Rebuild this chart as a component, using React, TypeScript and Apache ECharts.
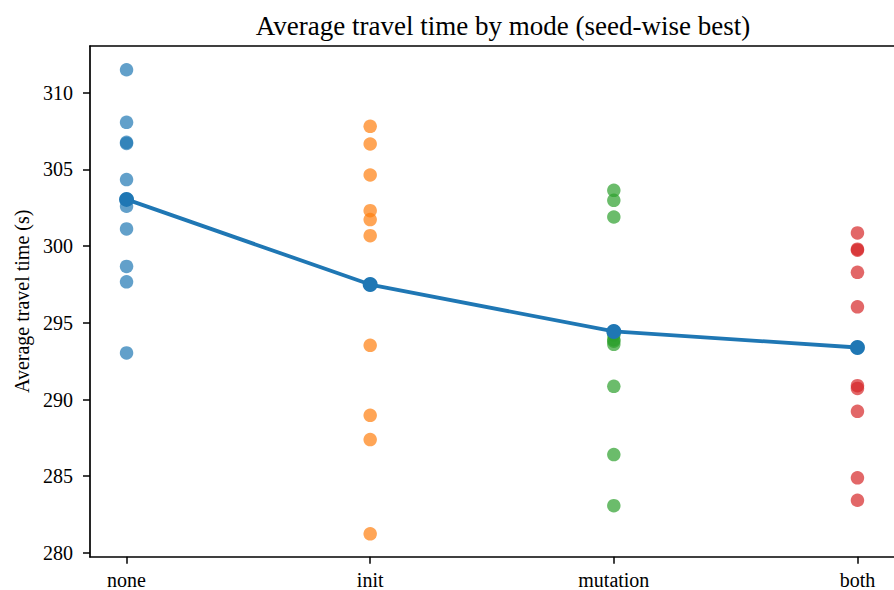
import React, { useEffect, useRef } from "react";
import * as echarts from "echarts";

const categories = ["none", "init", "mutation", "both"];
const noneValues = [311.5, 308.07, 306.77, 306.7, 304.34, 302.6, 301.12, 298.68, 297.67, 293.04];
const initValues = [307.81, 306.66, 304.64, 302.31, 301.73, 300.68, 293.53, 288.97, 287.39, 281.24];
const mutationValues = [303.64, 302.99, 301.9, 294.2, 293.9, 293.8, 293.6, 290.86, 286.41, 283.08];
const bothValues = [300.86, 299.8, 299.74, 298.29, 296.04, 290.9, 290.72, 289.23, 284.89, 283.43];
const yTicks = [280, 285, 290, 295, 300, 305, 310];

const groups = [noneValues, initValues, mutationValues, bothValues];
const colors = ["#1f77b4", "#ff7f0e", "#2ca02c", "#d62728"];
const FONT = "Liberation Serif";

export default function App() {
  const ref = useRef<HTMLDivElement>(null);
  useEffect(() => {
    document.body.style.margin = "0";
    const chart = echarts.init(ref.current!, null, { renderer: "svg" });
    const means = groups.map((g) => g.reduce((a, b) => a + b, 0) / g.length);
    const scatterSeries = groups.map((g, i) => ({
      type: "scatter",
      data: g.map((v) => [i, v]),
      symbol: "circle",
      symbolSize: 13.5,
      itemStyle: { color: colors[i], opacity: 0.7 },
      z: 2,
    }));
    chart.setOption({
      animation: false,
      title: {
        text: "Average travel time by mode (seed-wise best)",
        left: 498,
        top: 7,
        textAlign: "center",
        textStyle: { fontFamily: FONT, fontSize: 27, fontWeight: "normal", color: "#000" },
      },
      grid: { left: 90, top: 46, right: -12.7, bottom: 33.3 },
      xAxis: [
        {
          type: "value",
          min: -0.15,
          max: 3.15,
          splitLine: { show: false },
          axisLine: { show: true, onZero: false, lineStyle: { color: "#000", width: 1.7 } },
          axisTick: { show: true, length: 7, lineStyle: { color: "#000", width: 1.5 }, customValues: [0, 1, 2, 3] },
          axisLabel: {
            customValues: [0, 1, 2, 3],
            formatter: (v: number) => categories[Math.round(v)] ?? "",
            fontFamily: FONT,
            fontSize: 20,
            color: "#000",
            margin: 13,
          },
        },
        {
          type: "value",
          position: "top",
          min: -0.15,
          max: 3.15,
          splitLine: { show: false },
          axisLine: { show: true, onZero: false, lineStyle: { color: "#000", width: 1.7 } },
          axisTick: { show: false },
          axisLabel: { show: false },
        },
      ],
      yAxis: {
        type: "value",
        min: 279.75,
        max: 313.05,
        name: "Average travel time (s)",
        nameLocation: "middle",
        nameGap: 57,
        nameTextStyle: { fontFamily: FONT, fontSize: 20, color: "#000" },
        splitLine: { show: false },
        axisLine: { show: true, onZero: false, lineStyle: { color: "#000", width: 1.7 } },
        axisTick: { show: true, length: 7, lineStyle: { color: "#000", width: 1.5 }, customValues: yTicks },
        axisLabel: { customValues: yTicks, fontFamily: FONT, fontSize: 20, color: "#000", margin: 17 },
      },
      series: [
        ...scatterSeries,
        {
          type: "line",
          data: means.map((m, i) => [i, m]),
          symbol: "circle",
          symbolSize: 15,
          lineStyle: { color: colors[0], width: 3.8 },
          itemStyle: { color: colors[0] },
          z: 5,
        },
      ],
    });
    return () => chart.dispose();
  }, []);
  return <div ref={ref} style={{ position: "absolute", left: 0, top: 0, width: 894, height: 590 }} />;
}
